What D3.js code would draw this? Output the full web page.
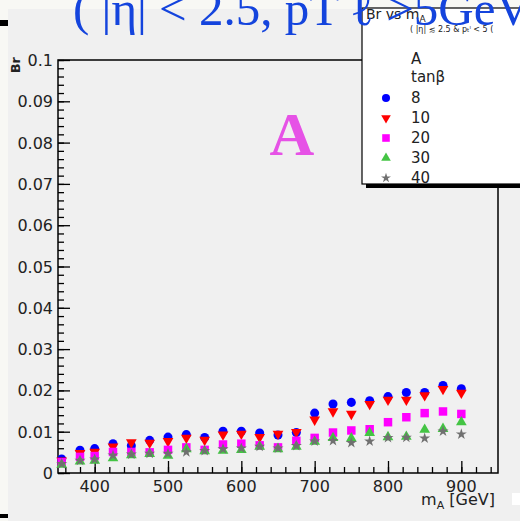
<!DOCTYPE html>
<html>
<head>
<meta charset="utf-8">
<script src="https://cdn.jsdelivr.net/npm/d3@7"></script>
<style>
  body { margin: 0; background: #f8f8f4; }
  svg { display: block; }
</style>
</head>
<body>
<svg id="chart"></svg>
<script>
// Br vs m_A for several tan(beta)
var mass = [355, 380, 400, 425, 450, 475, 500, 525, 550, 575, 600, 625,
            650, 675, 700, 725, 750, 775, 800, 825, 850, 875, 900];
var tb8  = [0.0034, 0.0055, 0.0059, 0.0071, 0.0066, 0.0079, 0.0087, 0.0093, 0.0086, 0.0101, 0.0101, 0.0097,
            0.0092, 0.0098, 0.0145, 0.0167, 0.0171, 0.0175, 0.0185, 0.0195, 0.0195, 0.0212, 0.0204];
var tb10 = [0.0030, 0.0048, 0.0051, 0.0064, 0.0074, 0.0073, 0.0077, 0.0085, 0.0080, 0.0093, 0.0095, 0.0087,
            0.0095, 0.0099, 0.0129, 0.0149, 0.0143, 0.0167, 0.0177, 0.0177, 0.0188, 0.0203, 0.0194];
var tb20 = [0.0026, 0.0039, 0.0041, 0.0051, 0.0051, 0.0050, 0.0056, 0.0062, 0.0056, 0.0069, 0.0071, 0.0067,
            0.0062, 0.0078, 0.0085, 0.0098, 0.0103, 0.0106, 0.0123, 0.0135, 0.0145, 0.0149, 0.0143];
var tb30 = [0.0020, 0.0028, 0.0030, 0.0036, 0.0043, 0.0046, 0.0042, 0.0058, 0.0053, 0.0054, 0.0056, 0.0064,
            0.0058, 0.0064, 0.0076, 0.0085, 0.0084, 0.0097, 0.0087, 0.0088, 0.0105, 0.0107, 0.0123];
var tb40 = [0.0022, 0.0030, 0.0033, 0.0043, 0.0045, 0.0047, 0.0047, 0.0051, 0.0054, 0.0058, 0.0060, 0.0064,
            0.0060, 0.0066, 0.0077, 0.0078, 0.0073, 0.0077, 0.0085, 0.0086, 0.0084, 0.0101, 0.0094];
var tanbLabels = ["8", "10", "20", "30", "40"];
var xTicks = [400, 500, 600, 700, 800, 900];
var yTicks = [0, 0.01, 0.02, 0.03, 0.04, 0.05, 0.06, 0.07, 0.08, 0.09, 0.1];

var series = [
  { name: tanbLabels[0], values: tb8,  color: "#0000ff", sym: d3.symbolCircle,   size: 64, rot: 0 },
  { name: tanbLabels[1], values: tb10, color: "#ff0000", sym: d3.symbolTriangle, size: 50, rot: 180 },
  { name: tanbLabels[2], values: tb20, color: "#ff00ff", sym: d3.symbolSquare,   size: 72, rot: 0 },
  { name: tanbLabels[3], values: tb30, color: "#44c444", sym: d3.symbolTriangle, size: 50, rot: 0 },
  { name: tanbLabels[4], values: tb40, color: "#707070", sym: d3.symbolStar,     size: 38, rot: 0 }
];

var W = 520, H = 521;
var pl = 58, pr = 498, pt = 60, pb = 473;

var svg = d3.select("#chart").attr("width", W).attr("height", H);

// page background
svg.append("rect").attr("x", 8).attr("y", 9).attr("width", W).attr("height", H).attr("fill", "#f0f0f0");
svg.append("rect").attr("x", 0).attr("y", 20).attr("width", 8).attr("height", 6).attr("fill", "#000");
svg.append("rect").attr("x", 0).attr("y", 514).attr("width", 8).attr("height", 4).attr("fill", "#000");
svg.append("rect").attr("x", 512).attr("y", 493).attr("width", 8).attr("height", 12).attr("fill", "#fff");

var x = d3.scaleLinear().domain([350, 950]).range([pl, pr]);
var y = d3.scaleLinear().domain([0, 0.1]).range([pb, pt]);

// frame
svg.append("rect")
   .attr("x", pl).attr("y", pt)
   .attr("width", pr - pl).attr("height", pb - pt)
   .attr("fill", "none").attr("stroke", "#000").attr("stroke-width", 1.5);

// axes, ticks pointing into the frame
var gx = svg.append("g").attr("transform", "translate(0," + pb + ")");
gx.call(d3.axisTop(x).tickValues(d3.range(360, 950, 20)).tickSize(6).tickFormat(""))
  .call(function(g) { g.select(".domain").remove(); });
gx.append("g")
  .call(d3.axisTop(x).tickValues(xTicks).tickSize(12).tickFormat(""))
  .call(function(g) { g.select(".domain").remove(); });
gx.selectAll("line").attr("stroke", "#000").attr("stroke-width", 1.3);
gx.selectAll(".xlab").data(xTicks).enter().append("text")
  .attr("x", function(d) { return x(d); })
  .attr("y", 19)
  .attr("text-anchor", "middle")
  .attr("font-family", "DejaVu Sans")
  .attr("font-size", 16)
  .attr("fill", "#222")
  .text(function(d) { return d; });

var gy = svg.append("g").attr("transform", "translate(" + pl + ",0)");
gy.call(d3.axisRight(y).tickValues(d3.range(0, 0.1001, 0.002)).tickSize(6).tickFormat(""))
  .call(function(g) { g.select(".domain").remove(); });
gy.append("g")
  .call(d3.axisRight(y).tickValues(yTicks).tickSize(12).tickFormat(""))
  .call(function(g) { g.select(".domain").remove(); });
gy.selectAll("line").attr("stroke", "#000").attr("stroke-width", 1.3);
gy.selectAll(".ylab").data(yTicks).enter().append("text")
  .attr("x", -5)
  .attr("y", function(d) { return y(d) + 6; })
  .attr("text-anchor", "end")
  .attr("font-family", "DejaVu Sans")
  .attr("font-size", 16)
  .attr("fill", "#222")
  .text(function(d) { return d; });

// axis titles
svg.append("text")
   .attr("transform", "translate(20,57) rotate(-90)")
   .attr("text-anchor", "end")
   .attr("font-family", "DejaVu Sans")
   .attr("font-weight", "bold")
   .attr("font-size", 13)
   .attr("fill", "#222")
   .text("Br");

var xt = svg.append("text")
   .attr("x", 495).attr("y", 505)
   .attr("text-anchor", "end")
   .attr("font-family", "DejaVu Sans")
   .attr("font-size", 16)
   .attr("fill", "#222");
xt.append("tspan").text("m");
xt.append("tspan").attr("font-size", 11).attr("dy", 4).text("A");
xt.append("tspan").attr("dy", -4).text(" [GeV]");

// markers
series.forEach(function(s) {
  var sym = d3.symbol().type(s.sym).size(s.size);
  svg.append("g").selectAll("path")
     .data(mass.map(function(m, i) { return { m: m, v: s.values[i] }; }))
     .enter().append("path")
     .attr("d", sym)
     .attr("transform", function(d) {
       return "translate(" + x(d.m) + "," + y(d.v) + ") rotate(" + s.rot + ")";
     })
     .attr("fill", s.color);
});

// big "A"
svg.append("text")
   .attr("x", 292).attr("y", 155)
   .attr("text-anchor", "middle")
   .attr("font-family", "Liberation Serif")
   .attr("font-weight", "bold")
   .attr("font-size", 62)
   .attr("fill", "#e652e6")
   .text("A");

// legend box with shadow
svg.append("rect").attr("x", 366).attr("y", 12).attr("width", 170).attr("height", 176).attr("fill", "#000");
svg.append("rect").attr("x", 362).attr("y", 8).attr("width", 170).attr("height", 176)
   .attr("fill", "#fff").attr("stroke", "#000").attr("stroke-width", 1.2);

var lt = svg.append("text").attr("x", 366).attr("y", 19)
   .attr("font-family", "DejaVu Sans").attr("font-size", 14).attr("fill", "#222");
lt.append("tspan").text("Br vs m");
lt.append("tspan").attr("font-size", 9).attr("dy", 3).text("A");

svg.append("text").attr("x", 410).attr("y", 32)
   .attr("font-family", "DejaVu Sans").attr("font-size", 8).attr("fill", "#222")
   .text("( |η| ≲ 2.5  & p\u209C\u02E1 < 5 (");

svg.append("text").attr("x", 411).attr("y", 64)
   .attr("font-family", "DejaVu Sans").attr("font-size", 15).attr("fill", "#222").text("A");
svg.append("text").attr("x", 411).attr("y", 82)
   .attr("font-family", "DejaVu Sans").attr("font-size", 15).attr("fill", "#222").text("tanβ");

series.forEach(function(s, i) {
  var yy = 98 + i * 20;
  svg.append("path")
     .attr("d", d3.symbol().type(s.sym).size(s.size * 0.8))
     .attr("transform", "translate(386," + yy + ") rotate(" + s.rot + ")")
     .attr("fill", s.color);
  svg.append("text").attr("x", 411).attr("y", yy + 5)
     .attr("font-family", "DejaVu Sans").attr("font-size", 15).attr("fill", "#222")
     .text(s.name);
});

// big blue cut label across the top
svg.append("text")
   .attr("x", 73).attr("y", 25)
   .attr("font-family", "Liberation Serif")
   .attr("font-size", 49)
   .attr("fill", "#1444dd")
   .text("( |η| < 2.5, pT ℓ >5GeV");
</script>
</body>
</html>
